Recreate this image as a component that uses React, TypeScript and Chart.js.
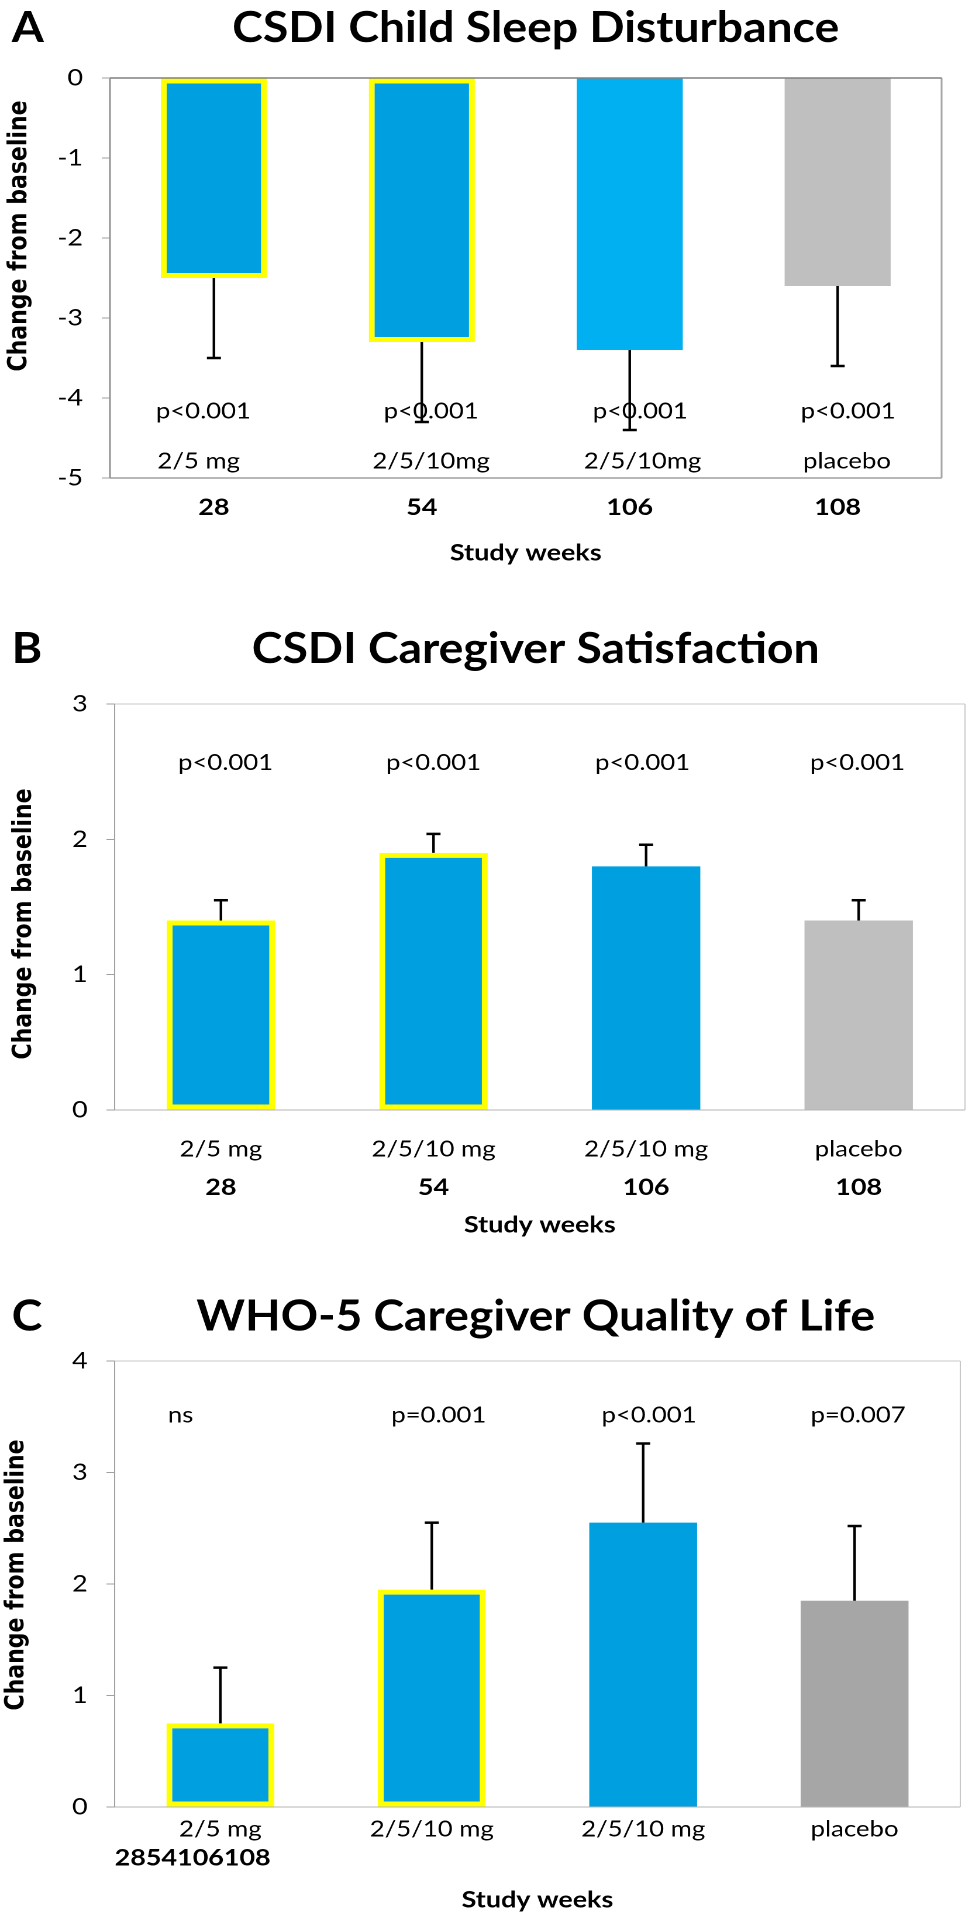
import React, { useEffect, useRef } from 'react';
import { Chart, registerables } from 'chart.js';

Chart.register(...registerables);

// ---------------- data ----------------
const WEEKS = ['28', '54', '106', '108'];
const DOSES_A = ['2/5 mg', '2/5/10mg', '2/5/10mg', 'placebo'];
const DOSES = ['2/5 mg', '2/5/10 mg', '2/5/10 mg', 'placebo'];
const WEEKS_RUN_C = '2854106108';

const SLEEP_MEAN = [-2.5, -3.3, -3.4, -2.6];
const SLEEP_ERR = [1.0, 1.0, 1.0, 1.0];
const SLEEP_P = ['p<0.001', 'p<0.001', 'p<0.001', 'p<0.001'];

const SATIS_MEAN = [1.4, 1.9, 1.8, 1.4];
const SATIS_ERR = [0.15, 0.14, 0.16, 0.15];
const SATIS_P = ['p<0.001', 'p<0.001', 'p<0.001', 'p<0.001'];

const WHO_MEAN = [0.75, 1.95, 2.55, 1.85];
const WHO_ERR = [0.5, 0.6, 0.71, 0.67];
const WHO_P = ['ns', 'p=0.001', 'p<0.001', 'p=0.007'];

const Y_TITLE = 'Change from baseline';
const X_TITLE = 'Study weeks';

// ---------------- styles ----------------
const PAGE_W = 972;
const LOGICAL_W = 831; // drawn narrower, then stretched to the page width
const FONT = 'Lato, "Open Sans", sans-serif';
const YFONT = '"DejaVu Sans", Verdana, sans-serif';
const BLUE = '#00A0E0';
const BLUE_LIGHT = '#00B0F0';
const GRAY_LIGHT = '#BFBFBF';
const GRAY_DARK = '#A6A6A6';
const YELLOW = '#FFFF00';
const INK = '#000000';
const TITLE_SIZE = 43;
const TITLE_SQUEEZE = 0.92;

type Inner = { texts: string[]; y: number; dx: number[] };
type PanelDef = {
  letter: string;
  title: string;
  height: number;
  titleBaseline: number;
  area: { top: number; bottom: number; left: number; right: number };
  yMin: number;
  yMax: number;
  values: number[];
  errors: number[];
  colors: string[];
  outlined: boolean[];
  xLabels: string[];
  xBold: boolean;
  xPad: number;
  xHeight: number;
  xTitlePad: number;
  x2?: { labels: string[]; pad: number; height: number; titlePad: number };
  inner: Inner[];
  extra?: { text: string; x: number; y: number };
  yTitle: { x: number; y: number };
  frame: { top: string; bottom: string; left: string; right: string; width: number };
};

const PANELS: PanelDef[] = [
  {
    letter: 'A',
    title: 'CSDI Child Sleep Disturbance',
    height: 600,
    titleBaseline: 42,
    area: { top: 78, bottom: 478, left: 94, right: 805 },
    yMin: -5,
    yMax: 0,
    values: SLEEP_MEAN,
    errors: SLEEP_ERR,
    colors: [BLUE, BLUE, BLUE_LIGHT, GRAY_LIGHT],
    outlined: [true, true, false, false],
    xLabels: WEEKS,
    xBold: true,
    xPad: 16,
    xHeight: 122,
    xTitlePad: 33,
    inner: [
      { texts: SLEEP_P, y: -4.17, dx: [-9, 8, 9, 9] },
      { texts: DOSES_A, y: -4.79, dx: [-13, 8, 11, 8] },
    ],
    yTitle: { x: 17, y: 236 },
    frame: { top: '#808080', bottom: '#A0A0A0', left: '#909090', right: '#A6A6A6', width: 1.5 },
  },
  {
    letter: 'B',
    title: 'CSDI Caregiver Satisfaction',
    height: 670,
    titleBaseline: 63,
    area: { top: 104, bottom: 510, left: 98, right: 825 },
    yMin: 0,
    yMax: 3,
    values: SATIS_MEAN,
    errors: SATIS_ERR,
    colors: [BLUE, BLUE, BLUE, GRAY_LIGHT],
    outlined: [true, true, false, false],
    xLabels: DOSES,
    xBold: false,
    xPad: 26,
    xHeight: 62,
    xTitlePad: 0,
    x2: { labels: WEEKS, pad: 2, height: 98, titlePad: 31 },
    inner: [{ texts: SATIS_P, y: 2.566, dx: [4, 0, -3, -1] }],
    yTitle: { x: 21, y: 324 },
    frame: { top: '#C8C8C8', bottom: '#B4B4B4', left: '#A0A0A0', right: '#C8C8C8', width: 1 },
  },
  {
    letter: 'C',
    title: 'WHO-5 Caregiver Quality of Life',
    height: 650,
    titleBaseline: 60.5,
    area: { top: 91, bottom: 537, left: 98, right: 821 },
    yMin: 0,
    yMax: 4,
    values: WHO_MEAN,
    errors: WHO_ERR,
    colors: [BLUE, BLUE, BLUE, GRAY_DARK],
    outlined: [true, true, false, false],
    xLabels: DOSES,
    xBold: false,
    xPad: 9,
    xHeight: 113,
    xTitlePad: 6,
    inner: [{ texts: WHO_P, y: 3.51, dx: [-34, 6, 5, 3] }],
    extra: { text: WEEKS_RUN_C, x: 98, y: 588 },
    yTitle: { x: 14.5, y: 305 },
    frame: { top: '#C8C8C8', bottom: '#B4B4B4', left: '#A0A0A0', right: '#C8C8C8', width: 1 },
  },
];

function squeezedText(ctx: any, text: string, x: number, y: number, align: string) {
  ctx.save();
  ctx.translate(x, y);
  ctx.scale(TITLE_SQUEEZE, 1);
  ctx.textAlign = align;
  ctx.fillText(text, 0, 0);
  ctx.restore();
}

function extrasPlugin(p: PanelDef) {
  return {
    id: 'panelExtras' + p.letter,
    afterDatasetsDraw(chart: any) {
      const { ctx, chartArea: a } = chart;
      const ys = chart.scales.y;
      ctx.save();
      // plot frame
      const f = p.frame;
      ctx.lineWidth = f.width;
      const line = (x1: number, y1: number, x2: number, y2: number, c: string) => {
        ctx.strokeStyle = c;
        ctx.beginPath();
        ctx.moveTo(x1, y1);
        ctx.lineTo(x2, y2);
        ctx.stroke();
      };
      line(a.left, a.bottom, a.right, a.bottom, f.bottom);
      line(a.right, a.top, a.right, a.bottom, f.right);
      line(a.left, a.top, a.right, a.top, f.top);
      line(a.left, a.top, a.left, a.bottom, f.left);
      // error bars (one-sided, away from zero)
      const meta = chart.getDatasetMeta(0);
      ctx.strokeStyle = INK;
      meta.data.forEach((bar: any, i: number) => {
        const v = p.values[i];
        const end = v + Math.sign(v) * p.errors[i];
        const y0 = ys.getPixelForValue(v);
        const y1 = ys.getPixelForValue(end);
        ctx.lineWidth = 2.2;
        ctx.beginPath();
        ctx.moveTo(bar.x, y0);
        ctx.lineTo(bar.x, y1);
        ctx.stroke();
        ctx.lineWidth = 2.5;
        ctx.beginPath();
        ctx.moveTo(bar.x - 6, y1);
        ctx.lineTo(bar.x + 6, y1);
        ctx.stroke();
      });
      ctx.restore();
    },
    afterDraw(chart: any) {
      const { ctx } = chart;
      const xs = chart.scales.x;
      const ys = chart.scales.y;
      ctx.save();
      ctx.fillStyle = INK;
      // panel letter and title
      ctx.font = `bold ${TITLE_SIZE}px ${FONT}`;
      ctx.textBaseline = 'alphabetic';
      squeezedText(ctx, p.letter, 10, p.titleBaseline, 'left');
      squeezedText(ctx, p.title, 458, p.titleBaseline, 'center');
      // texts inside the plot
      ctx.font = `22px ${FONT}`;
      ctx.textAlign = 'center';
      ctx.textBaseline = 'middle';
      p.inner.forEach((row) => {
        row.texts.forEach((t, i) => {
          ctx.fillText(t, xs.getPixelForValue(i) + row.dx[i], ys.getPixelForValue(row.y));
        });
      });
      // extra weeks line (panel C)
      if (p.extra) {
        ctx.font = `bold 23px ${FONT}`;
        ctx.textAlign = 'left';
        ctx.fillText(p.extra.text, p.extra.x, p.extra.y);
      }
      // y axis title
      ctx.translate(p.yTitle.x, p.yTitle.y);
      ctx.rotate(-Math.PI / 2);
      ctx.font = `bold 22px ${YFONT}`;
      ctx.textAlign = 'center';
      ctx.textBaseline = 'middle';
      ctx.fillText(Y_TITLE, 0, 0);
      ctx.restore();
    },
  };
}

function buildChart(canvas: HTMLCanvasElement, p: PanelDef) {
  const scales: any = {
    y: {
      min: p.yMin,
      max: p.yMax,
      ticks: { stepSize: 1, padding: 16, color: INK, font: { family: FONT, size: 23 } },
      grid: { drawOnChartArea: false, drawTicks: true, tickLength: 7, color: '#A0A0A0' },
      border: { display: false },
      afterFit: (s: any) => {
        s.width = p.area.left;
      },
    },
    x: {
      type: 'category',
      weight: 0,
      grid: { display: false, drawTicks: false },
      border: { display: false },
      ticks: {
        padding: p.xPad,
        color: INK,
        maxRotation: 0,
        autoSkip: false,
        font: { family: FONT, size: p.xBold ? 23 : 22, weight: p.xBold ? 'bold' : 'normal' },
      },
      title: {
        display: !p.x2,
        text: X_TITLE,
        color: INK,
        font: { family: FONT, size: 23, weight: 'bold' },
        padding: { top: 0, bottom: p.xTitlePad },
      },
      afterFit: (s: any) => {
        s.height = p.xHeight;
      },
    },
  };
  if (p.x2) {
    const x2 = p.x2;
    scales.x2 = {
      type: 'category',
      position: 'bottom',
      labels: x2.labels,
      offset: true,
      weight: 1,
      grid: { display: false, drawTicks: false },
      border: { display: false },
      ticks: { padding: x2.pad, color: INK, maxRotation: 0, autoSkip: false, font: { family: FONT, size: 23, weight: 'bold' } },
      title: {
        display: true,
        text: X_TITLE,
        color: INK,
        font: { family: FONT, size: 23, weight: 'bold' },
        padding: { top: 0, bottom: x2.titlePad },
      },
      afterFit: (s: any) => {
        s.height = x2.height;
      },
    };
  }
  return new Chart(canvas, {
    type: 'bar',
    data: {
      labels: p.xLabels,
      datasets: [
        {
          data: p.values,
          backgroundColor: p.colors,
          borderColor: p.outlined.map((o, i) => (o ? YELLOW : p.colors[i])),
          borderWidth: p.outlined.map((o) => (o ? 5 : 0)),
          borderSkipped: false,
          barPercentage: 0.51,
          categoryPercentage: 1,
        },
      ],
    },
    options: {
      responsive: false,
      animation: false,
      devicePixelRatio: 2,
      layout: { padding: { top: p.area.top, right: LOGICAL_W - p.area.right, left: 0, bottom: 0 } },
      plugins: { legend: { display: false }, tooltip: { enabled: false }, title: { display: false } },
      scales,
    } as any,
    plugins: [extrasPlugin(p)],
  });
}

function Panel({ def }: { def: PanelDef }) {
  const ref = useRef<HTMLCanvasElement | null>(null);
  useEffect(() => {
    let chart: Chart | null = null;
    let cancelled = false;
    const fontsReady = (document as any).fonts
      ? Promise.all([
          (document as any).fonts.load(`bold 40px Lato`),
          (document as any).fonts.load(`22px Lato`),
          (document as any).fonts.load(`bold 20px "DejaVu Sans"`),
        ]).catch(() => null)
      : Promise.resolve(null);
    fontsReady.then(() => {
      if (cancelled || !ref.current) return;
      chart = buildChart(ref.current, def);
    });
    return () => {
      cancelled = true;
      if (chart) chart.destroy();
    };
  }, [def]);
  return (
    <canvas
      ref={ref}
      width={LOGICAL_W}
      height={def.height}
      style={{ display: 'block', width: PAGE_W + 'px', height: def.height + 'px' }}
    />
  );
}

export default function App() {
  return (
    <div style={{ position: 'absolute', left: 0, top: 0, width: PAGE_W, height: 1920, background: '#fff' }}>
      {PANELS.map((p) => (
        <Panel key={p.letter} def={p} />
      ))}
    </div>
  );
}
